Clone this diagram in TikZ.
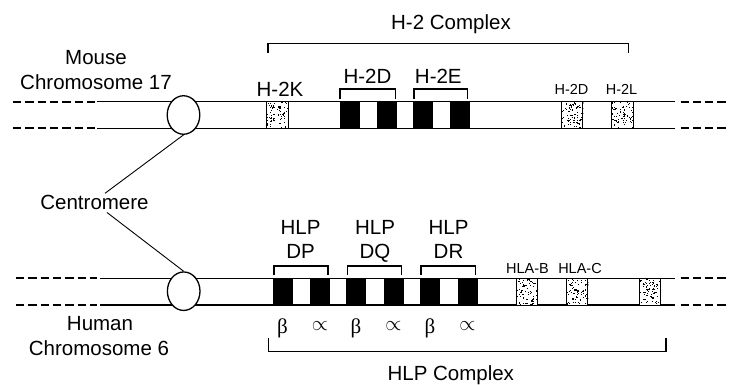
\documentclass[tikz,border=0pt]{standalone}
\usepackage{fontspec}
\setmainfont{Liberation Sans}
\newfontfamily\greekserif{Liberation Serif}
\usetikzlibrary{shapes.geometric,calc}
\newcommand\stipplebox[1]{%
  \begin{scope}
    \clip (#1.north west) rectangle (#1.south east);
    \foreach \k in {1,...,75}{%
      \pgfmathsetmacro\rx{rnd}\pgfmathsetmacro\ry{rnd}%
      \fill ($(#1.north west)+(\rx*22,\ry*27)$) rectangle +(1.1,1.1);
    }
  \end{scope}}
\begin{document}
\begin{tikzpicture}[x=1pt,y=-1pt,
  chrom/.style={line width=1.4pt},
  dashpart/.style={line width=1.8pt, dash pattern=on 8.3pt off 4pt},
  cen/.style={ellipse, draw, line width=1.3pt, fill=white, minimum width=32.6pt, minimum height=38.5pt, inner sep=0pt},
  gene/.style={draw, line width=0.9pt, minimum width=19pt, minimum height=26.7pt, inner sep=0pt, fill=black},
  stip/.style={draw, line width=0.9pt, minimum width=21.3pt, minimum height=26.7pt, inner sep=0pt, fill=white},
  big/.style={font=\fontsize{20.5}{24}\selectfont, inner sep=0pt, anchor=base},
  small/.style={font=\fontsize{14.5}{17}\selectfont, inner sep=0pt, anchor=base},
  greek/.style={font=\greekserif\fontsize{21}{24}\selectfont, inner sep=0pt, anchor=base},
  prop/.style={font=\fontsize{20}{24}\selectfont, inner sep=0pt, anchor=base},
  brk/.style={line width=1.1pt},
  pointer/.style={line width=0.9pt},
]
\useasboundingbox (0,0) rectangle (729,385);
\pgfmathsetseed{11}

% ---------- mouse chromosome ----------
\coordinate (mTa) at (97,101.7);  \coordinate (mTb) at (675,101.7);
\coordinate (mBa) at (97,128.3);  \coordinate (mBb) at (675,128.3);
\draw[chrom] (mTa) -- (mTb);
\draw[chrom] (mBa) -- (mBb);
\draw[dashpart] (13,101.7) -- (mTa);
\draw[dashpart] (13,128.3) -- (mBa);
\draw[dashpart] (680.5,101.7) -- (729,101.7);
\draw[dashpart] (680.5,128.3) -- (729,128.3);

\node[stip] (h2k) at (277.5,115) {};
\node[gene] (m1) at (349.5,115) {};
\node[gene] (m2) at (386.5,115) {};
\node[gene] (m3) at (422.5,115) {};
\node[gene] (m4) at (460,115) {};
\node[stip] (h2d) at (572.2,115) {};
\node[stip] (h2l) at (622.5,115) {};
\stipplebox{h2k}\stipplebox{h2d}\stipplebox{h2l}

\node[cen] (mcen) at (183.5,115) {};

% ---------- human chromosome ----------
\coordinate (hTa) at (100,278.3);  \coordinate (hTb) at (675,278.3);
\coordinate (hBa) at (100,305);    \coordinate (hBb) at (675,305);
\draw[chrom] (hTa) -- (hTb);
\draw[chrom] (hBa) -- (hBb);
\draw[dashpart] (16,278.3) -- (97,278.3);
\draw[dashpart] (16,305) -- (97,305);
\draw[dashpart] (680.5,278.3) -- (729,278.3);
\draw[dashpart] (680.5,305) -- (729,305);

\node[gene] (g1) at (282.5,291.7) {};
\node[gene] (g2) at (320,291.7) {};
\node[gene] (g3) at (356,291.7) {};
\node[gene] (g4) at (393.5,291.7) {};
\node[gene] (g5) at (430,291.7) {};
\node[gene] (g6) at (467.5,291.7) {};
\node[stip] (hlab) at (526.7,291.7) {};
\node[stip] (hlac) at (577.2,291.7) {};
\node[stip] (hlax) at (650,291.7) {};
\stipplebox{hlab}\stipplebox{hlac}\stipplebox{hlax}

\node[cen] (hcen) at (183.7,291.2) {};

% ---------- centromere ----------
\node[big] (cenlab) at (94.5,210) {Centromere};
\coordinate (cenup) at (105,193.3);
\coordinate (cendn) at (107,212.5);
\draw[pointer] (cenup) -- (mcen.south);
\draw[pointer] (cendn) -- (hcen.north);

% ---------- mouse labels ----------
\node[big] (mouse1) at (96,65) {Mouse};
\node[big] (mouse2) at (96,90) {Chromosome 17};
\node[big] (h2cx) at (451,30) {H-2 Complex};
\draw[brk] (268,52.7) -- (268,43.3) -- (628.7,43.3) -- (628.7,52.7);
\node[big] (h2klab) at (280,96.7) {H-2K};
\node[big] (h2dlab) at (367.5,83.3) {H-2D};
\node[big] (h2elab) at (438.3,83.3) {H-2E};
\draw[brk] (340,98.7) -- (340,89) -- (395.5,89) -- (395.5,98.7);
\draw[brk] (414,98.7) -- (414,89) -- (467.7,89) -- (467.7,98.7);
\node[small] (h2dlab2) at (571.5,94.5) {H-2D};
\node[small] (h2llab) at (621.5,94.5) {H-2L};

% ---------- human labels ----------
\node[big] (human1) at (100,330) {Human};
\node[big] (human2) at (99,355) {Chromosome 6};
\node[big] (dp1) at (300.5,235) {HLP};
\node[big] (dp2) at (300.5,258.3) {DP};
\node[big] (dq1) at (375,235) {HLP};
\node[big] (dq2) at (375,258.3) {DQ};
\node[big] (dr1) at (448.5,235) {HLP};
\node[big] (dr2) at (448.5,258.3) {DR};
\draw[brk] (274,275) -- (274,266) -- (328,266) -- (328,275);
\draw[brk] (347.7,275) -- (347.7,266) -- (401.7,266) -- (401.7,275);
\draw[brk] (421,275) -- (421,266) -- (475.7,266) -- (475.7,275);
\node[small] (hlablab) at (527.5,273.3) {HLA-B};
\node[small] (hlaclab) at (580,273.3) {HLA-C};

\node[greek] (b1) at (g1.south |- 0,333) {β};
\node[prop] (a1) at (g2.south |- 0,330.5) {$\propto$};
\node[greek] (b2) at (g3.south |- 0,333) {β};
\node[prop] (a2) at (g4.south |- 0,330.5) {$\propto$};
\node[greek] (b3) at (g5.south |- 0,333) {β};
\node[prop] (a3) at (g6.south |- 0,330.5) {$\propto$};

\draw[brk] (268.3,338) -- (268.3,351.7) -- (666,351.7) -- (666,338);
\node[big] (hlpcx) at (450.8,380.5) {HLP Complex};
\end{tikzpicture}
\end{document}
